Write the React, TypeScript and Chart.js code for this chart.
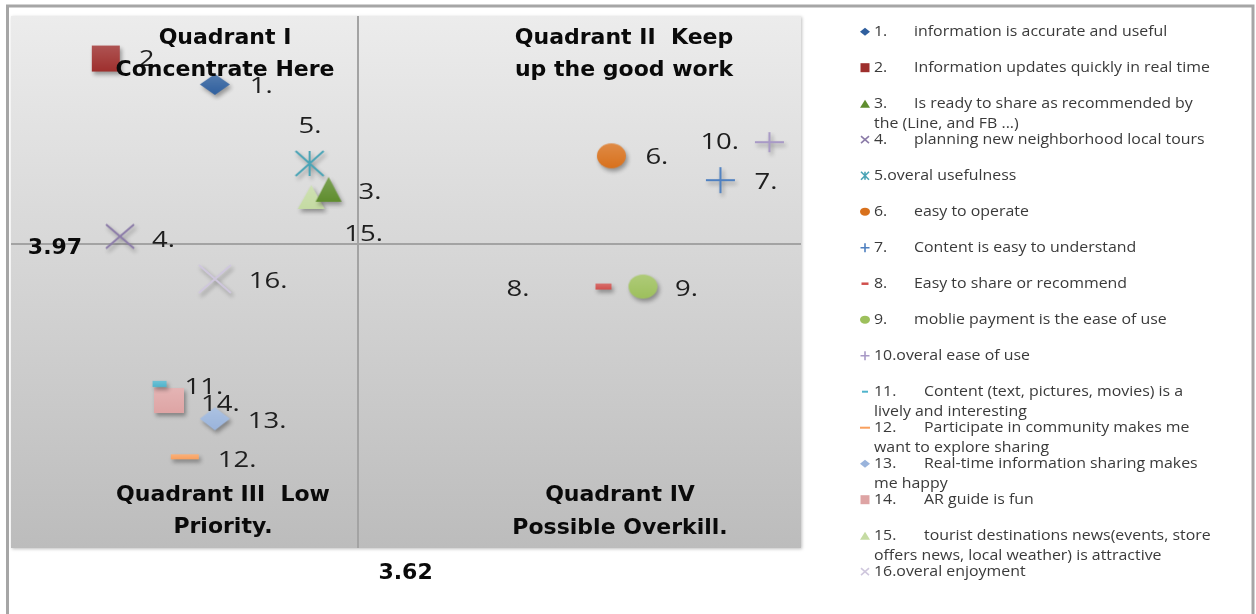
import React, { useEffect, useRef } from 'react';
import { Chart, registerables } from 'chart.js';

Chart.register(...registerables);

// ---- data ----
const seriesNames = [
  '1.\tinformation is accurate and useful',
  '2.\tInformation updates quickly in real time',
  '3.\tIs ready to share as recommended by\nthe (Line, and FB ...)',
  '4.\tplanning new neighborhood local tours',
  '5.overal usefulness',
  '6.\teasy to operate',
  '7.\tContent is easy to understand',
  '8.\tEasy to share or recommend',
  '9.\tmoblie payment is the ease of use',
  '10.overal ease of use',
  '11.\tContent (text, pictures, movies) is a\nlively and interesting',
  '12.\tParticipate in community makes me\nwant to explore sharing',
  '13.\tReal-time information sharing makes\nme happy',
  '14.\tAR guide is fun',
  '15.\ttourist destinations news(events, store\noffers news, local weather) is attractive',
  '16.overal enjoyment',
];
const pointLabels = ['1.', '2', '3.', '4.', '5.', '6.', '7.', '8.', '9.', '10.', '11.', '12.', '13.', '14.', '15.', '16.'];
const xValues = [3.529, 3.46, 3.601, 3.469, 3.589, 3.78, 3.849, 3.775, 3.8, 3.88, 3.494, 3.51, 3.529, 3.5, 3.59, 3.529];
const yValues = [4.075, 4.092, 4.006, 3.975, 4.023, 4.028, 4.012, 3.942, 3.942, 4.037, 3.878, 3.83, 3.855, 3.867, 4.001, 3.947];
const xMean = 3.62;
const yMean = 3.97;
const xRange = [3.4, 3.9];
const yRange = [3.77, 4.12];
const quadrantTitles = [
  ['Quadrant I', 'Concentrate Here'],
  ['Quadrant II  Keep', 'up the good work'],
  ['Quadrant III  Low', 'Priority.'],
  ['Quadrant IV', 'Possible Overkill.'],
];

// ---- styles ----
type Shape = 'diamond' | 'square' | 'triangle' | 'x' | 'asterisk' | 'circle' | 'plus' | 'dash';
const markerStyles: { shape: Shape; color: string; w: number; h: number; lw: number; lh: number }[] = [
  { shape: 'diamond', color: '#2f5f9e', w: 30, h: 21, lw: 10, lh: 8 },
  { shape: 'square', color: '#9e2f2d', w: 28, h: 26, lw: 9, lh: 9 },
  { shape: 'triangle', color: '#5f8d2e', w: 26, h: 25, lw: 10, lh: 8 },
  { shape: 'x', color: '#8b7ba8', w: 28, h: 24, lw: 8, lh: 7 },
  { shape: 'asterisk', color: '#4aa4b6', w: 28, h: 25, lw: 8, lh: 8 },
  { shape: 'circle', color: '#d8711d', w: 29, h: 25, lw: 10, lh: 8 },
  { shape: 'plus', color: '#4f80c0', w: 29, h: 26, lw: 9, lh: 9 },
  { shape: 'dash', color: '#d0504d', w: 16, h: 6, lw: 7, lh: 2.5 },
  { shape: 'circle', color: '#9dc05c', w: 29, h: 24, lw: 10, lh: 8 },
  { shape: 'plus', color: '#a899c6', w: 29, h: 20, lw: 9, lh: 9 },
  { shape: 'dash', color: '#4fb4cc', w: 14, h: 6, lw: 6, lh: 2 },
  { shape: 'dash', color: '#f9a05e', w: 28, h: 5, lw: 10, lh: 2 },
  { shape: 'diamond', color: '#9ab4dc', w: 30, h: 23, lw: 10, lh: 8 },
  { shape: 'square', color: '#dea4a4', w: 30, h: 25, lw: 9, lh: 9 },
  { shape: 'triangle', color: '#c5dba3', w: 27, h: 24, lw: 10, lh: 8 },
  { shape: 'x', color: '#cfc7dd', w: 32, h: 28, lw: 8, lh: 7 },
];
const labelOffsets: [number, number][] = [
  [35, 2], [33, 1], [30, 3], [32, 4], [-11, -37], [34, 2], [34, 3], [-97, 3],
  [32, 3], [-69, 1], [25, 4], [33, 4], [33, 3], [32, 4], [33, 38], [34, 3],
];
const titlePositions: [number, number, number][] = [
  [225, 38, 70], [624, 38, 70], [223, 495, 527], [620, 495, 528],
];

function lighten(hex: string, t: number) {
  const n = parseInt(hex.slice(1), 16);
  const r = (n >> 16) & 255, g = (n >> 8) & 255, b = n & 255;
  const m = (c: number) => Math.round(c + (255 - c) * t);
  return `rgb(${m(r)},${m(g)},${m(b)})`;
}

function drawShape(ctx: CanvasRenderingContext2D, shape: Shape, cx: number, cy: number, w: number, h: number, color: string, lineW: number, shade: boolean) {
  const hw = w / 2, hh = h / 2;
  let fill = true;
  ctx.beginPath();
  switch (shape) {
    case 'diamond':
      ctx.moveTo(cx, cy - hh); ctx.lineTo(cx + hw, cy); ctx.lineTo(cx, cy + hh); ctx.lineTo(cx - hw, cy); ctx.closePath();
      break;
    case 'square':
    case 'dash':
      ctx.rect(cx - hw, cy - hh, w, h);
      break;
    case 'triangle':
      ctx.moveTo(cx, cy - hh); ctx.lineTo(cx + hw, cy + hh); ctx.lineTo(cx - hw, cy + hh); ctx.closePath();
      break;
    case 'circle':
      ctx.ellipse(cx, cy, hw, hh, 0, 0, Math.PI * 2);
      break;
    case 'x':
      ctx.moveTo(cx - hw, cy - hh); ctx.lineTo(cx + hw, cy + hh); ctx.moveTo(cx + hw, cy - hh); ctx.lineTo(cx - hw, cy + hh);
      fill = false;
      break;
    case 'asterisk':
      ctx.moveTo(cx - hw, cy - hh); ctx.lineTo(cx + hw, cy + hh); ctx.moveTo(cx + hw, cy - hh); ctx.lineTo(cx - hw, cy + hh);
      ctx.moveTo(cx, cy - hh); ctx.lineTo(cx, cy + hh);
      fill = false;
      break;
    case 'plus':
      ctx.moveTo(cx - hw, cy); ctx.lineTo(cx + hw, cy); ctx.moveTo(cx, cy - hh); ctx.lineTo(cx, cy + hh);
      fill = false;
      break;
  }
  if (fill) {
    if (shade) {
      const g = ctx.createLinearGradient(0, cy - hh, 0, cy + hh);
      g.addColorStop(0, lighten(color, 0.18));
      g.addColorStop(1, color);
      ctx.fillStyle = g;
    } else ctx.fillStyle = color;
    ctx.fill();
  } else {
    ctx.strokeStyle = color;
    ctx.lineWidth = lineW;
    ctx.stroke();
  }
}

function makeMarker(i: number) {
  const s = markerStyles[i];
  const pad = 10;
  const c = document.createElement('canvas');
  c.width = s.w + pad * 2;
  c.height = s.h + pad * 2;
  const ctx = c.getContext('2d')!;
  ctx.shadowColor = 'rgba(0,0,0,0.35)';
  ctx.shadowBlur = 4;
  ctx.shadowOffsetX = 2;
  ctx.shadowOffsetY = 3;
  drawShape(ctx, s.shape, c.width / 2, c.height / 2, s.w, s.h, s.color, 2, true);
  return c;
}

function scaledText(ctx: CanvasRenderingContext2D, t: string, x: number, y: number, sx: number) {
  ctx.save();
  ctx.translate(x, y);
  ctx.scale(sx, 1);
  ctx.fillText(t, 0, 0);
  ctx.restore();
}

const decorPlugin = {
  id: 'decor',
  beforeDraw(chart: any) {
    const ctx: CanvasRenderingContext2D = chart.ctx;
    const a = chart.chartArea;
    ctx.save();
    ctx.fillStyle = '#ffffff';
    ctx.fillRect(0, 0, chart.width, chart.height);
    // frame
    ctx.strokeStyle = '#a6a6a6';
    ctx.lineWidth = 3;
    ctx.strokeRect(7.5, 6, 1245.5, 700);
    // plot background
    ctx.save();
    ctx.shadowColor = 'rgba(0,0,0,0.25)';
    ctx.shadowBlur = 3;
    ctx.shadowOffsetX = 1;
    ctx.shadowOffsetY = 1;
    const g = ctx.createLinearGradient(0, a.top, 0, a.bottom);
    g.addColorStop(0, '#ececec');
    g.addColorStop(1, '#bcbcbc');
    ctx.fillStyle = g;
    ctx.fillRect(a.left, a.top, a.right - a.left, a.bottom - a.top);
    ctx.restore();
    // crosshair
    const xs = chart.scales.x, ys = chart.scales.y;
    const px = Math.round(xs.getPixelForValue(xMean)) - 1;
    const py = Math.round(ys.getPixelForValue(yMean));
    ctx.strokeStyle = '#a3a3a3';
    ctx.lineWidth = 2;
    ctx.beginPath();
    ctx.moveTo(px, a.top); ctx.lineTo(px, a.bottom);
    ctx.moveTo(a.left, py); ctx.lineTo(a.right, py);
    ctx.stroke();
    ctx.restore();
  },
  afterDatasetsDraw(chart: any) {
    const ctx: CanvasRenderingContext2D = chart.ctx;
    const xs = chart.scales.x, ys = chart.scales.y;
    ctx.save();
    // point labels
    ctx.fillStyle = '#1e1e1e';
    ctx.font = '22px "Open Sans"';
    ctx.textBaseline = 'middle';
    ctx.textAlign = 'left';
    pointLabels.forEach((t, i) => {
      const px = xs.getPixelForValue(xValues[i]) + labelOffsets[i][0];
      const py = ys.getPixelForValue(yValues[i]) + labelOffsets[i][1];
      scaledText(ctx, t, px, py, 1.25);
    });
    // quadrant titles
    ctx.fillStyle = '#0a0a0a';
    ctx.font = 'bold 22px "DejaVu Sans"';
    ctx.textAlign = 'center';
    quadrantTitles.forEach((lines, i) => {
      const [cx, y1, y2] = titlePositions[i];
      ctx.fillText(lines[0], cx, y1);
      ctx.fillText(lines[1], cx, y2);
    });
    // mean labels
    ctx.font = 'bold 22px "DejaVu Sans"';
    ctx.fillText(yMean.toFixed(2), 55, ys.getPixelForValue(yMean) + 4);
    ctx.fillText(xMean.toFixed(2), xs.getPixelForValue(xMean) + 47, 573);
    // legend
    ctx.textAlign = 'left';
    ctx.font = '15px "Open Sans"';
    seriesNames.forEach((name, i) => {
      const s = markerStyles[i];
      const y = 31.7 + i * 36;
      drawShape(ctx, s.shape, 865, y, s.lw, s.lh, s.color, 1.6, false);
      ctx.fillStyle = '#3a3a3a';
      const lines = name.split('\n');
      const first = lines[0];
      if (first.includes('\t')) {
        const [num, desc] = first.split('\t');
        scaledText(ctx, num, 874, y, 1.06);
        scaledText(ctx, desc, num.length > 2 ? 924 : 914, y, 1.06);
      } else {
        scaledText(ctx, first, 874, y, 1.06);
      }
      if (lines[1]) scaledText(ctx, lines[1], 874, y + 20, 1.06);
    });
    ctx.restore();
  },
};

export default function App() {
  const ref = useRef<HTMLCanvasElement>(null);
  useEffect(() => {
    if (!ref.current) return;
    const datasets = seriesNames.map((name, i) => ({
      label: name,
      data: [{ x: xValues[i], y: yValues[i] }],
      pointStyle: makeMarker(i),
      pointRadius: 10,
      backgroundColor: markerStyles[i].color,
      borderColor: markerStyles[i].color,
    }));
    const chart = new Chart(ref.current, {
      type: 'scatter',
      data: { datasets },
      options: {
        animation: false,
        responsive: false,
        events: [],
        layout: { padding: { left: 9, top: 16, right: 455, bottom: 66 } },
        scales: {
          x: { type: 'linear', min: xRange[0], max: xRange[1], display: false },
          y: { type: 'linear', min: yRange[0], max: yRange[1], display: false },
        },
        plugins: { legend: { display: false }, tooltip: { enabled: false } },
      },
      plugins: [decorPlugin],
    } as any);
    return () => chart.destroy();
  }, []);
  return (
    <div style={{ position: 'absolute', left: 0, top: 0, width: 1256, height: 614 }}>
      <canvas ref={ref} width={1256} height={614} style={{ display: 'block' }} />
    </div>
  );
}
